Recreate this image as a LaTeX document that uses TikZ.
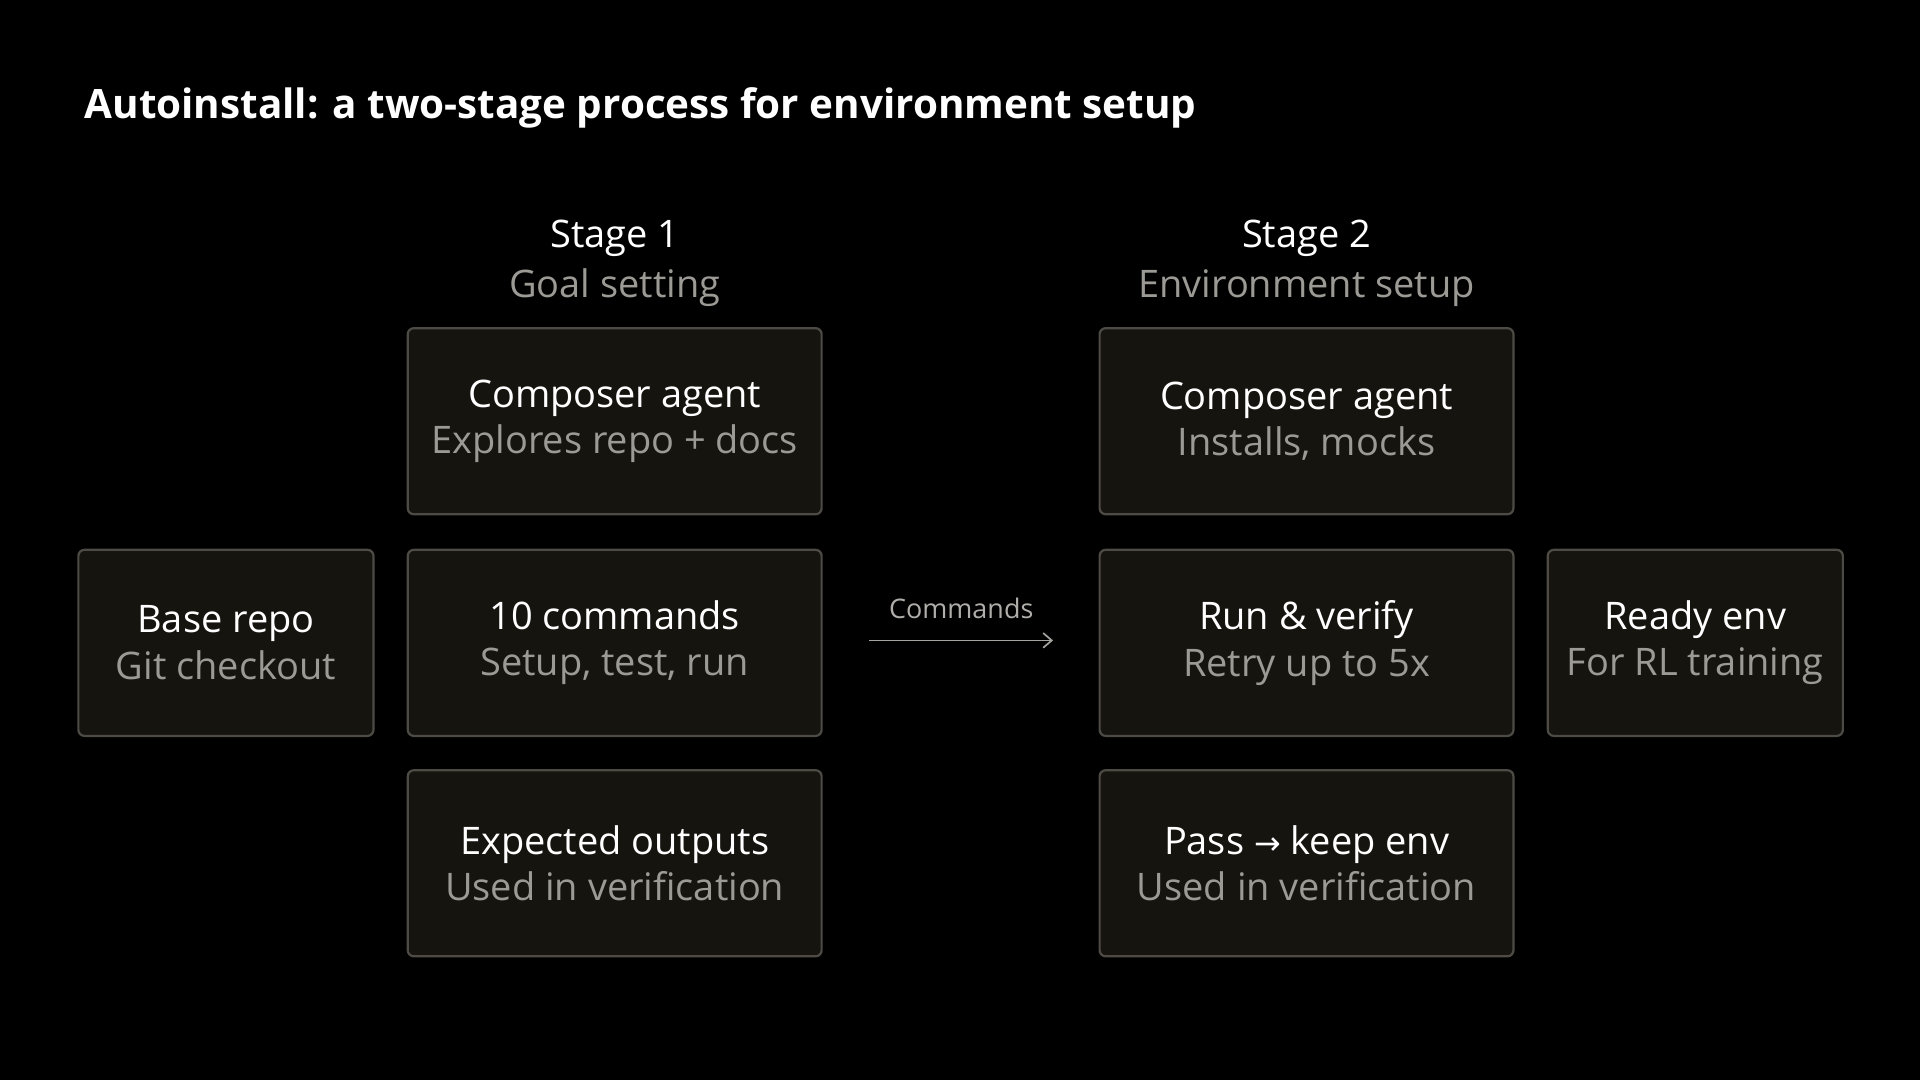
\documentclass[tikz,border=0pt]{standalone}
\usepackage{fontspec}
\setmainfont{Open Sans}
\newfontfamily\symfont{DejaVu Sans}
\usetikzlibrary{arrows.meta}
\definecolor{boxfill}{HTML}{16140F}
\definecolor{boxline}{HTML}{4E4B45}
\definecolor{subgray}{HTML}{9C9A95}
\begin{document}
\begin{tikzpicture}[x=0.5pt,y=-0.5pt,
  box/.style={draw=boxline,line width=0.9pt,fill=boxfill,rounded corners=2.5pt,minimum width=169pt,minimum height=76pt,inner sep=0pt,align=center,font=\fontsize{15.5}{19}\selectfont,text=white},
  narrow/.style={box,minimum width=120.5pt},
  stage/.style={align=center,font=\fontsize{15.5}{20.5}\selectfont,text=white}]
\fill[black] (0,0) rectangle (1568,882);
\node[anchor=west,text=white,font=\fontsize{16.5}{20}\selectfont\bfseries] (title) at (62,88) {Autoinstall: a two-stage process for environment setup};
\node[stage] (s1) at (502,215) {Stage 1\\\textcolor{subgray}{Goal setting}};
\node[stage] (s2) at (1067,215) {Stage 2\\\textcolor{subgray}{Environment setup}};
\node[box] (c1) at (502,344) {Composer agent\\\textcolor{subgray}{Explores repo + docs}};
\node[box] (cmd) at (502,525) {10 commands\\\textcolor{subgray}{Setup, test, run}};
\node[box] (exp) at (502,705) {Expected outputs\\\textcolor{subgray}{Used in verification}};
\node[narrow] (base) at (184.5,525) {Base repo\\\textcolor{subgray}{Git checkout}};
\node[box] (c2) at (1067,344) {Composer agent\\\textcolor{subgray}{Installs, mocks}};
\node[box] (run) at (1067,525) {Run \& verify\\\textcolor{subgray}{Retry up to 5x}};
\node[box] (pass) at (1067,705) {Pass {\symfont\fontsize{13}{15}\selectfont→} keep env\\\textcolor{subgray}{Used in verification}};
\node[narrow] (ready) at (1384.5,525) {Ready env\\\textcolor{subgray}{For RL training}};
\coordinate (a1) at (710,523);
\coordinate (a2) at (860,523);
\draw[subgray!90!white,line width=0.7pt,-{Straight Barb[length=3.5pt,width=6pt]}] (a1) -- node[above=5pt,font=\fontsize{11}{13}\selectfont,text=subgray!80!white] (lbl) {Commands} (a2);
\end{tikzpicture}
\end{document}
